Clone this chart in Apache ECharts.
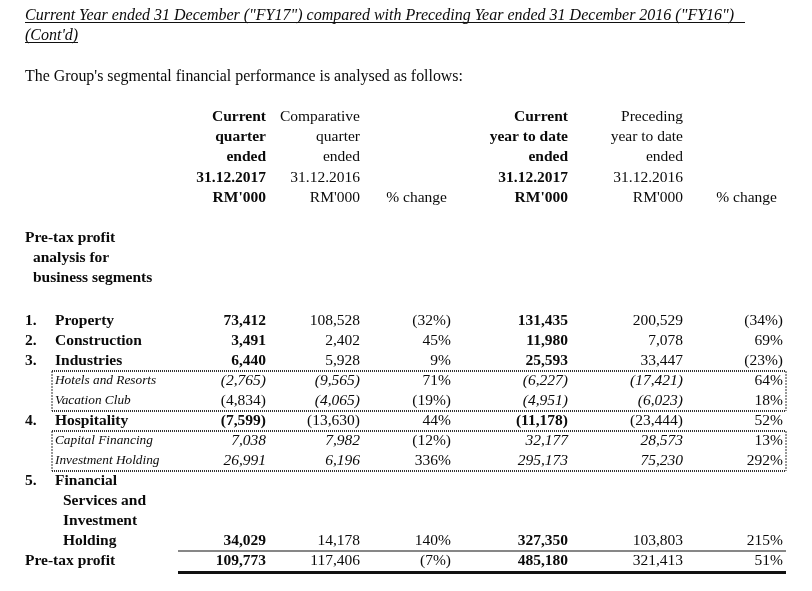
<!DOCTYPE html>
<html>
<head>
<meta charset="utf-8">
<script src="https://cdn.jsdelivr.net/npm/echarts@6/dist/echarts.min.js"></script>
<style>html,body{margin:0;padding:0;background:#fff}#c{width:812px;height:591px}</style>
</head>
<body>
<div id="c"></div>
<script>
// ---------- DATA ----------
var titleLines = ['Current Year ended 31 December ("FY17") compared with Preceding Year ended 31 December 2016 ("FY16")', "(Cont'd)"];
var introText = "The Group's segmental financial performance is analysed as follows:";
var headerCols = [
  ['Current', 'quarter', 'ended', '31.12.2017', "RM'000"],
  ['Comparative', 'quarter', 'ended', '31.12.2016', "RM'000"],
  ['', '', '', '', '% change'],
  ['Current', 'year to date', 'ended', '31.12.2017', "RM'000"],
  ['Preceding', 'year to date', 'ended', '31.12.2016', "RM'000"],
  ['', '', '', '', '% change']
];
var sideHeading = ['Pre-tax profit', 'analysis for', 'business segments'];
var segNums = ['1.', '2.', '3.', '', '', '4.', '', '', '5.', '', '', '', ''];
var segLabels = ['Property', 'Construction', 'Industries', 'Hotels and Resorts', 'Vacation Club', 'Hospitality',
  'Capital Financing', 'Investment Holding', 'Financial', 'Services and', 'Investment', 'Holding', 'Pre-tax profit'];
var rowKinds = ['main', 'main', 'main', 'sub', 'sub', 'main', 'sub', 'sub', 'main', 'cont', 'cont', 'cont', 'total'];
var curQtr  = [73412, 3491, 6440, -2765, -4834, -7599, 7038, 26991, null, null, null, 34029, 109773];
var prevQtr = [108528, 2402, 5928, -9565, -4065, -13630, 7982, 6196, null, null, null, 14178, 117406];
var chgQtr  = [-32, 45, 9, 71, -19, 44, -12, 336, null, null, null, 140, -7];
var curYtd  = [131435, 11980, 25593, -6227, -4951, -11178, 32177, 295173, null, null, null, 327350, 485180];
var prevYtd = [200529, 7078, 33447, -17421, -6023, -23444, 28573, 75230, null, null, null, 103803, 321413];
var chgYtd  = [-34, 69, -23, 64, 18, 52, 13, 292, null, null, null, 215, 51];

// ---------- LAYOUT / STYLE ----------
var FONT = '"Liberation Serif","Times New Roman",serif';
var FS = 15.5;
var colRight = [266, 360, 451, 568, 683, 783];
var hdrRight = [266, 360, 447, 568, 683, 777];
var colBold = [true, false, false, true, false, false];
var hdrY0 = 117, hdrStep = 20.2;
var sideY0 = 238;
var rowY0 = 321, rowH = 20;
var boxLeft = 52, boxRight = 786;
var ruleLeft = 178;
// cells drawn upright although the row is a sub row
var uprightCells = {'4_0': true};

function fmtNum(v) {
  if (v == null) return '';
  var s = Math.abs(v).toLocaleString('en-US');
  return v < 0 ? '(' + s + ')' : s;
}
function fmtPct(v) {
  if (v == null) return '';
  return v < 0 ? '(' + Math.abs(v) + '%)' : v + '%';
}

var g = [];
function txt(str, x, y, opt) {
  opt = opt || {};
  g.push({
    type: 'text', x: x, y: y, silent: true,
    style: {
      text: str, x: 0, y: 0,
      fill: opt.color || '#0a0a0a',
      font: (opt.italic ? 'italic ' : '') + (opt.bold ? 'bold ' : '') + (opt.size || FS) + 'px ' + FONT,
      textAlign: opt.align || 'left', textVerticalAlign: 'middle'
    },
    scaleX: opt.scaleX || 1
  });
}
function line(x1, y1, x2, y2, w, dash, color) {
  g.push({
    type: 'line', silent: true,
    shape: {x1: x1, y1: y1, x2: x2, y2: y2},
    style: {stroke: color || '#111', lineWidth: w, lineDash: dash || null}
  });
}

// Title
txt(titleLines[0], 25, 15.5, {italic: true, size: 16, scaleX: 1.0});
txt(titleLines[1], 25, 35.5, {italic: true, size: 16, scaleX: 1.0});
txt(introText, 25, 76.5, {size: 15.9});

// Header
headerCols.forEach(function (col, ci) {
  col.forEach(function (s, ri) {
    if (s) txt(s, hdrRight[ci], hdrY0 + ri * hdrStep, {align: 'right', bold: colBold[ci]});
  });
});
sideHeading.forEach(function (s, i) {
  txt(s, i === 0 ? 25 : 33, sideY0 + i * 20, {bold: true});
});

// Rows
var cols = [curQtr, prevQtr, chgQtr, curYtd, prevYtd, chgYtd];
segLabels.forEach(function (lab, i) {
  var y = rowY0 + i * rowH;
  var kind = rowKinds[i];
  if (segNums[i]) txt(segNums[i], 25, y, {bold: true});
  if (kind === 'sub') txt(lab, 55, y, {italic: true, size: 13.3});
  else if (kind === 'cont') txt(lab, 63, y, {bold: true});
  else if (kind === 'total') txt(lab, 25, y, {bold: true});
  else txt(lab, 55, y, {bold: true});
  cols.forEach(function (arr, ci) {
    var v = arr[i];
    if (v == null) return;
    var isPct = (ci === 2 || ci === 5);
    var s = isPct ? fmtPct(v) : fmtNum(v);
    var italic = kind === 'sub' && !isPct && !uprightCells[i + '_' + ci];
    var bold = colBold[ci] && kind !== 'sub';
    txt(s, colRight[ci], y, {align: 'right', bold: bold, italic: italic});
  });
});

// Dotted boxes around sub rows
var dash = [1, 1];
function box(r0, r1) {
  var top = rowY0 + (r0 - 0.5) * rowH, bot = rowY0 + (r1 + 0.5) * rowH;
  line(boxLeft, top, boxRight, top, 2, dash, '#333');
  line(boxLeft, bot, boxRight, bot, 2, dash, '#333');
  line(boxLeft, top, boxLeft, bot, 1, [2, 1], '#333');
  line(boxRight, top, boxRight, bot, 1, [2, 1], '#333');
}
box(3, 4);
box(6, 7);

// Title underlines
line(25, 22.5, 745, 22.5, 1);
line(25, 42.5, 78, 42.5, 1);

// Total rules
line(ruleLeft, rowY0 + 11.5 * rowH, boxRight, rowY0 + 11.5 * rowH, 1.2);
line(ruleLeft, rowY0 + 12.5 * rowH + 1.5, boxRight, rowY0 + 12.5 * rowH + 1.5, 3);

var chart = echarts.init(document.getElementById('c'), null, {renderer: 'canvas'});
chart.setOption({
  backgroundColor: '#ffffff',
  animation: false,
  graphic: {elements: g}
});
</script>
</body>
</html>
